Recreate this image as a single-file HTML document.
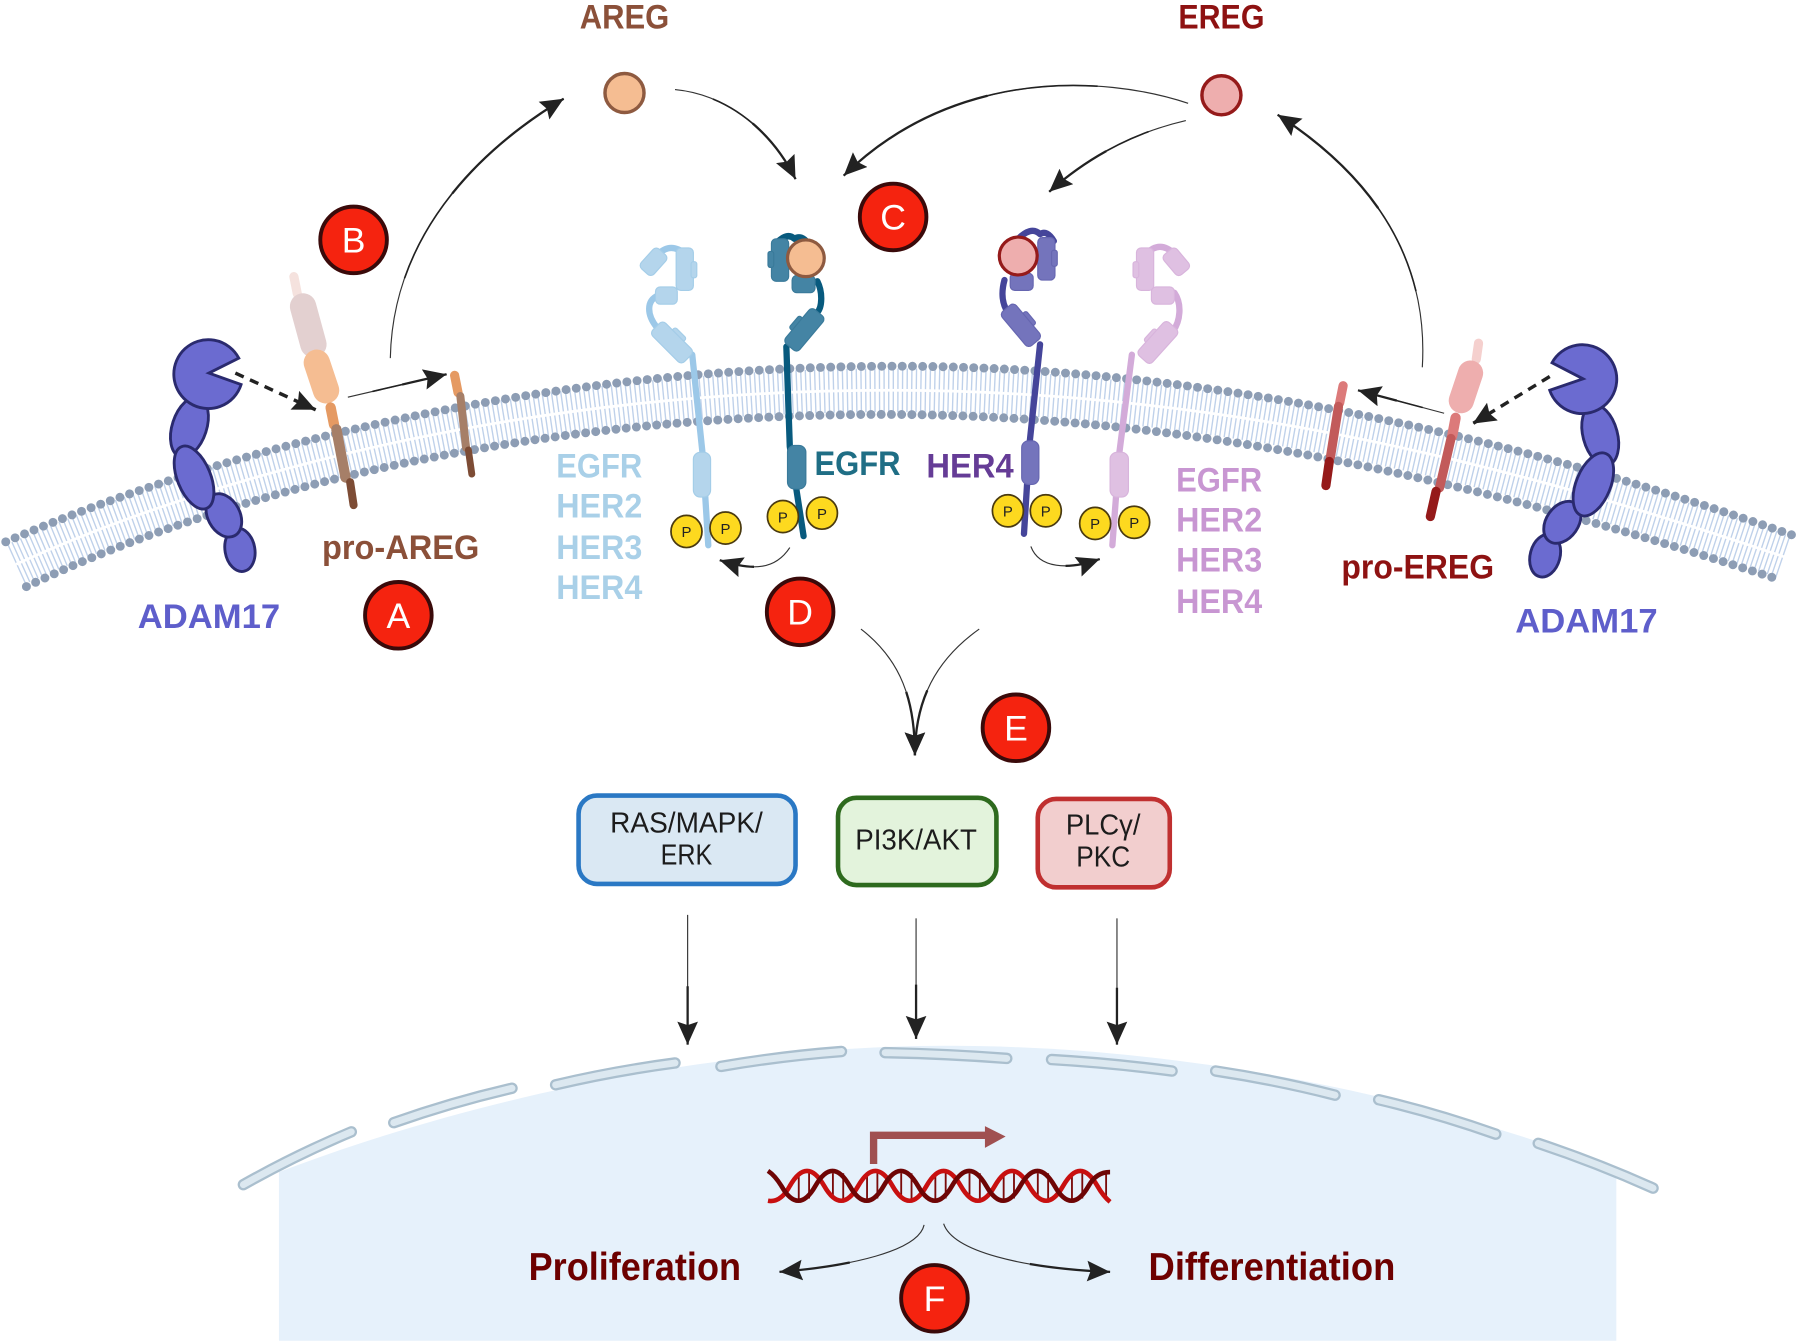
<!DOCTYPE html>
<html><head><meta charset="utf-8"><style>
html,body{margin:0;padding:0;background:#fff}
svg{display:block}
text{font-family:"Liberation Sans",sans-serif;text-anchor:middle}
.b{font-weight:bold}
.l{font-size:30px;font-weight:bold}
.c{fill:#f5230f;stroke:#3a0a0a;stroke-width:3.4}
.ct{fill:#fff;font-size:31px}
.p{fill:#fdd91f;stroke:#4a3a10;stroke-width:1.5}
.pt{font-size:13px;fill:#222}
.bt{font-size:25px;fill:#1c1c1c}
.a{fill:none;stroke:#333;stroke-width:1;marker-end:url(#h)}
.t{fill:none;stroke:#222;stroke-width:2;stroke-dasharray:0 55 45}
.m{fill:none;stroke:#222;stroke-width:1.4;stroke-dasharray:0 25 75}
.ad{fill:#6b6bd0;stroke:#2a2a6e;stroke-width:2.5}
.n1{fill:none;stroke:#aabfce;stroke-width:10;stroke-linecap:round}
.n2{fill:none;stroke:#dce8f0;stroke-width:6;stroke-linecap:round}
</style></head><body>
<svg width="1800" height="1344" viewBox="0 0 1568 1170.8" xmlns="http://www.w3.org/2000/svg">
<defs>
<marker id="h" markerUnits="userSpaceOnUse" markerWidth="22" markerHeight="20" refX="20" refY="9" orient="auto"><path d="M0,0L20,9L0,18L3,9Z" fill="#222"/></marker>
</defs>

<!-- nucleus -->
<path d="M243,1168L243,1021C430,950 640,911 825,911C1020,911 1230,950 1408,1019L1408,1168Z" fill="#e6f1fb"/>
<path class="n1" d="M212,1032Q258,1006 306,986M343,978Q394,960 446,948M484,945Q535,933 588,926M628,929Q680,920 733,916M771,917Q824,918 877,922M916,923Q968,926 1021,933M1059,933Q1112,941 1163,954M1201,958Q1252,970 1303,988M1340,996Q1391,1013 1440,1035"/>
<path class="n2" d="M212,1032Q258,1006 306,986M343,978Q394,960 446,948M484,945Q535,933 588,926M628,929Q680,920 733,916M771,917Q824,918 877,922M916,923Q968,926 1021,933M1059,933Q1112,941 1163,954M1201,958Q1252,970 1303,988M1340,996Q1391,1013 1440,1035"/>

<!-- membrane -->
<g fill="none">
<path d="M14,491.5C207,404 480,340 775,340C1070,340 1325,407 1554,485" stroke="#bfd1ea" stroke-width="38" stroke-dasharray="1.2 2.8"/>
<path d="M14,491.5C207,404 480,340 775,340C1070,340 1325,407 1554,485" stroke="#fff" stroke-width="2.4"/>
<g stroke="#8d9db4" stroke-width="7.8" stroke-linecap="round" stroke-dasharray="0 8.9">
<path d="M5,472C200,388 480,319 780,319C1060,319 1330,385 1561,466"/>
<path d="M23,511C215,420 480,361 770,361C1060,361 1320,430 1547,504"/>
</g>
</g>

<!-- ADAM17 left -->
<g class="ad">
<ellipse cx="209" cy="479" rx="13" ry="19" transform="rotate(-10 209 479)"/>
<ellipse cx="195" cy="449" rx="14" ry="20" transform="rotate(-28 195 449)"/>
<ellipse cx="165" cy="372" rx="15" ry="27" transform="rotate(18 165 372)"/>
<ellipse cx="169" cy="416" rx="14.5" ry="29" transform="rotate(-22 169 416)"/>
<path d="M182,325L208,312A30,30 0 1 0 210,335Z"/>
</g>
<!-- ADAM17 right -->
<g class="ad">
<ellipse cx="1346" cy="484" rx="13" ry="19" transform="rotate(15 1346 484)"/>
<ellipse cx="1361" cy="455" rx="14" ry="20" transform="rotate(35 1361 455)"/>
<ellipse cx="1394" cy="379" rx="15" ry="27" transform="rotate(-15 1394 379)"/>
<ellipse cx="1388" cy="422" rx="15" ry="29" transform="rotate(22 1388 422)"/>
<path d="M1379,330L1352,316A30,30 0 1 1 1350,340Z"/>
</g>

<!-- pro-AREG -->
<g fill="none" stroke-linecap="round">
<path d="M256,241L259,256" stroke="#f5e2de" stroke-width="8"/>
<path d="M264,267L273,300" stroke="#e3d0d0" stroke-width="23"/>
<path d="M276,316L284,340" stroke="#f5bd92" stroke-width="23"/>
<path d="M288,355L291,370" stroke="#e59a63" stroke-width="9"/>
<path d="M293,374L301,416" stroke="#a67f68" stroke-width="9"/>
<path d="M305,420L308,440" stroke="#7d4c35" stroke-width="7"/>
<path d="M396,327L399,342" stroke="#e59a63" stroke-width="8"/>
<path d="M401,345L406,390" stroke="#a67f68" stroke-width="7"/>
<path d="M408,392L411,413" stroke="#7d4c35" stroke-width="6"/>
<!-- pro-EREG -->
<path d="M1288,299L1286,313" stroke="#f5d0ce" stroke-width="8"/>
<path d="M1281,325L1273,349" stroke="#eeaeae" stroke-width="22"/>
<path d="M1268,364L1265,380" stroke="#dc7a7a" stroke-width="9"/>
<path d="M1264,382L1254,425" stroke="#c25a5a" stroke-width="8"/>
<path d="M1251,428L1246,450" stroke="#951a1a" stroke-width="8"/>
<path d="M1170,336L1167,351" stroke="#dc7a7a" stroke-width="8"/>
<path d="M1166,354L1159,398" stroke="#c25a5a" stroke-width="8"/>
<path d="M1158,402L1155,423" stroke="#951a1a" stroke-width="8"/>
</g>

<!-- Receptor light blue -->
<g>
<path d="M573,222Q584,210 598,222M574,257C562,262 564,275 572,285M603,309L612,395L617,475" fill="none" stroke="#9cc8e8" stroke-width="5.5" stroke-linecap="round" stroke-linejoin="round"/>
<g fill="#b4d5ec" stroke="#a4cde8">
<rect x="562" y="217" width="15" height="23" rx="4" transform="rotate(42 570 228)"/>
<rect x="589" y="216" width="15" height="37" rx="4"/>
<rect x="602" y="228" width="5" height="14" rx="2"/>
<rect x="571" y="250" width="19" height="15" rx="4"/>
<rect x="588" y="285" width="6" height="14" rx="2" transform="rotate(-45 591 292)"/>
<rect x="577" y="279" width="16" height="39" rx="4" transform="rotate(-45 585 298)"/>
<rect x="604" y="394" width="15" height="39" rx="6"/>
</g>
<ellipse class="p" cx="598" cy="463" rx="13.5" ry="14"/><text class="pt" x="598" y="468">P</text>
<ellipse class="p" cx="632" cy="460" rx="13.5" ry="14"/><text class="pt" x="632" y="465">P</text>
</g>

<!-- Receptor teal -->
<g>
<path d="M676,212Q686,202 692,208Q698,204 704,212M712,245C717,255 716,268 712,272M685,302L688,389L700,467" fill="none" stroke="#085a7e" stroke-width="5.5" stroke-linecap="round" stroke-linejoin="round"/>
<g fill="#4484a4" stroke="#3a7a9a">
<rect x="672" y="208" width="15" height="37" rx="4"/>
<rect x="669" y="219" width="5" height="14" rx="2"/>
<rect x="690" y="240" width="20" height="15" rx="4"/>
<rect x="691" y="275" width="6" height="14" rx="2" transform="rotate(40 694 282)"/>
<rect x="693" y="268" width="16" height="39" rx="4" transform="rotate(40 701 287)"/>
<rect x="686" y="388" width="16" height="38" rx="6"/>
</g>
<circle cx="702" cy="225" r="16" fill="#f5bd92" stroke="#8e5a40" stroke-width="2.8"/>
<ellipse class="p" cx="682" cy="450" rx="13.5" ry="14"/><text class="pt" x="682" y="455">P</text>
<ellipse class="p" cx="716" cy="447" rx="13.5" ry="14"/><text class="pt" x="716" y="452">P</text>
</g>

<!-- Receptor purple -->
<g>
<path d="M885,210Q898,196 906,204Q912,200 918,210M875,244C872,255 873,265 878,272M906,300L897,385L892,465" fill="none" stroke="#45459a" stroke-width="5.5" stroke-linecap="round" stroke-linejoin="round"/>
<g fill="#7474bc" stroke="#6666b0">
<rect x="904" y="207" width="15" height="37" rx="4"/>
<rect x="916" y="218" width="5" height="14" rx="2"/>
<rect x="880" y="238" width="20" height="15" rx="4"/>
<rect x="893" y="271" width="6" height="14" rx="2" transform="rotate(-40 896 278)"/>
<rect x="881" y="264" width="16" height="39" rx="4" transform="rotate(-40 889 283)"/>
<rect x="890" y="384" width="15" height="38" rx="6"/>
</g>
<circle cx="887" cy="223" r="16.5" fill="#eeaeae" stroke="#951a1a" stroke-width="2.8"/>
<ellipse class="p" cx="878" cy="445" rx="13.5" ry="14"/><text class="pt" x="878" y="450">P</text>
<ellipse class="p" cx="911" cy="445" rx="13.5" ry="14"/><text class="pt" x="911" y="450">P</text>
</g>

<!-- Receptor pink -->
<g>
<path d="M998,222Q1010,208 1024,222M1023,255C1030,265 1028,280 1022,288M986,309L975,395L969,475" fill="none" stroke="#d3abd9" stroke-width="5.5" stroke-linecap="round" stroke-linejoin="round"/>
<g fill="#dfc0e2" stroke="#d8b4dc">
<rect x="1017" y="217" width="15" height="23" rx="4" transform="rotate(-40 1024 228)"/>
<rect x="990" y="216" width="15" height="37" rx="4"/>
<rect x="987" y="228" width="5" height="14" rx="2"/>
<rect x="1003" y="250" width="20" height="15" rx="4"/>
<rect x="1000" y="286" width="6" height="14" rx="2" transform="rotate(42 1003 293)"/>
<rect x="1001" y="279" width="16" height="39" rx="4" transform="rotate(42 1009 298)"/>
<rect x="967" y="394" width="16" height="39" rx="6"/>
</g>
<ellipse class="p" cx="954" cy="456" rx="13.5" ry="14"/><text class="pt" x="954" y="461">P</text>
<ellipse class="p" cx="988" cy="455" rx="13.5" ry="14"/><text class="pt" x="988" y="460">P</text>
</g>

<!-- ligands -->
<circle cx="544" cy="81" r="17" fill="#f5bd92" stroke="#8e5a40" stroke-width="3"/>
<circle cx="1064" cy="83" r="17" fill="#eeaeae" stroke="#951a1a" stroke-width="3"/>

<!-- arrows -->
<path class="a" d="M340,312C342,210 410,135 491,86"/>
<path class="m" pathLength="100" d="M340,312C342,210 410,135 491,86"/><path class="t" pathLength="100" d="M340,312C342,210 410,135 491,86"/>
<path class="a" d="M588,78C630,82 670,110 693,156"/>
<path class="m" pathLength="100" d="M588,78C630,82 670,110 693,156"/><path class="t" pathLength="100" d="M588,78C630,82 670,110 693,156"/>
<path class="a" d="M1035,90C960,65 830,60 735,153"/>
<path class="m" pathLength="100" d="M1035,90C960,65 830,60 735,153"/><path class="t" pathLength="100" d="M1035,90C960,65 830,60 735,153"/>
<path class="a" d="M1033,105C990,115 950,135 914,167"/>
<path class="m" pathLength="100" d="M1033,105C990,115 950,135 914,167"/><path class="t" pathLength="100" d="M1033,105C990,115 950,135 914,167"/>
<path class="a" d="M1239,320C1245,220 1190,150 1113,100"/>
<path class="m" pathLength="100" d="M1239,320C1245,220 1190,150 1113,100"/><path class="t" pathLength="100" d="M1239,320C1245,220 1190,150 1113,100"/>
<path class="a" d="M303,346L389,326"/>
<path class="m" pathLength="100" d="M303,346L389,326"/><path class="t" pathLength="100" d="M303,346L389,326"/>
<path class="a" d="M1258,360L1183,340"/>
<path class="m" pathLength="100" d="M1258,360L1183,340"/><path class="t" pathLength="100" d="M1258,360L1183,340"/>
<path class="a" stroke-dasharray="8 6" style="stroke-width:3;stroke:#222" d="M205,325L275,357"/>
<path class="a" stroke-dasharray="8 6" style="stroke-width:3;stroke:#222" d="M1350,328L1283,369"/>
<path class="a" d="M688,477C675,497 655,497 627,488"/>
<path class="t" pathLength="100" d="M688,477C675,497 655,497 627,488"/>
<path class="a" d="M898,476C905,495 930,497 958,487"/>
<path class="t" pathLength="100" d="M898,476C905,495 930,497 958,487"/>
<path class="a" d="M750,548C785,575 797,610 797,658"/>
<path class="t" pathLength="100" d="M750,548C785,575 797,610 797,658"/>
<path class="a" d="M853,548C815,575 797,610 797,658"/>
<path class="t" pathLength="100" d="M853,548C815,575 797,610 797,658"/>
<path class="a" d="M599,797L599,910"/>
<path class="t" pathLength="100" d="M599,797L599,910"/>
<path class="a" d="M798,800L798,905"/>
<path class="t" pathLength="100" d="M798,800L798,905"/>
<path class="a" d="M973,800L973,910"/>
<path class="t" pathLength="100" d="M973,800L973,910"/>
<path class="a" d="M805,1067C800,1090 740,1103 679,1108"/>
<path class="t" pathLength="100" d="M805,1067C800,1090 740,1103 679,1108"/>
<path class="a" d="M822,1066C830,1090 890,1105 967,1108"/>
<path class="t" pathLength="100" d="M822,1066C830,1090 890,1105 967,1108"/>

<!-- boxes -->
<rect x="504" y="693" width="189" height="77" rx="16" fill="#dae8f3" stroke="#2a78c4" stroke-width="4"/>
<rect x="730" y="695" width="138" height="76" rx="16" fill="#e3f3dc" stroke="#2e6a1e" stroke-width="4"/>
<rect x="904" y="696" width="115" height="77" rx="16" fill="#f2cece" stroke="#c03030" stroke-width="4"/>
<text class="bt" x="598" y="725" textLength="133" lengthAdjust="spacingAndGlyphs">RAS/MAPK/</text>
<text class="bt" x="598" y="753" textLength="45" lengthAdjust="spacingAndGlyphs">ERK</text>
<text class="bt" x="798" y="740" textLength="106" lengthAdjust="spacingAndGlyphs">PI3K/AKT</text>
<text class="bt" x="961" y="727" textLength="65" lengthAdjust="spacingAndGlyphs">PLCγ/</text>
<text class="bt" x="961" y="755" textLength="47" lengthAdjust="spacingAndGlyphs">PKC</text>

<!-- DNA -->
<path d="M695,1033H967" stroke="#7a0a0a" stroke-width="22" stroke-dasharray="1.6 7.4 1.6 19.15" fill="none"/>
<path d="M669,1046Q680,1048 688.1,1033Q703,1007 717.9,1033T747.65,1033T777.4,1033T807.15,1033T836.9,1033T866.65,1033T896.4,1033T926.15,1033T955.9,1033Q961,1042 967,1047" fill="none" stroke="#c81010" stroke-width="4"/>
<path d="M669,1020Q675,1024 680.6,1033Q695.5,1059 710.35,1033T740.1,1033T769.85,1033T799.6,1033T829.35,1033T859.1,1033T888.85,1033T918.6,1033T948.35,1033Q955,1021 967,1021" fill="none" stroke="#6e0505" stroke-width="4"/>
<path d="M761,1014V989H860" fill="none" stroke="#a05050" stroke-width="6.4"/>
<path d="M858,981L876,990L858,1000Z" fill="#a05050"/>

<!-- circles -->
<circle class="c" cx="347" cy="536" r="29"/><text class="ct" x="347" y="547">A</text>
<circle class="c" cx="308" cy="209" r="29"/><text class="ct" x="308" y="220">B</text>
<circle class="c" cx="778" cy="189" r="29"/><text class="ct" x="778" y="200">C</text>
<circle class="c" cx="697" cy="533" r="29"/><text class="ct" x="697" y="544">D</text>
<circle class="c" cx="885" cy="634" r="29"/><text class="ct" x="885" y="645">E</text>
<circle class="c" cx="814" cy="1131" r="29"/><text class="ct" x="814" y="1142">F</text>

<!-- labels -->
<text class="l" fill="#8b5039" x="544" y="25" textLength="78" lengthAdjust="spacingAndGlyphs">AREG</text>
<text class="l" fill="#8e1212" x="1064" y="25" textLength="75" lengthAdjust="spacingAndGlyphs">EREG</text>
<text class="l" fill="#8b5039" x="349" y="487" textLength="137" lengthAdjust="spacingAndGlyphs">pro-AREG</text>
<text class="l" fill="#5e5ecb" x="182" y="547" textLength="124" lengthAdjust="spacingAndGlyphs">ADAM17</text>
<text class="l" fill="#8e1212" x="1235" y="504" textLength="133" lengthAdjust="spacingAndGlyphs">pro-EREG</text>
<text class="l" fill="#5e5ecb" x="1382" y="551" textLength="124" lengthAdjust="spacingAndGlyphs">ADAM17</text>
<g fill="#a9d0e8">
<text class="l" x="522" y="416" textLength="75" lengthAdjust="spacingAndGlyphs">EGFR</text>
<text class="l" x="522" y="451" textLength="75" lengthAdjust="spacingAndGlyphs">HER2</text>
<text class="l" x="522" y="487" textLength="75" lengthAdjust="spacingAndGlyphs">HER3</text>
<text class="l" x="522" y="522" textLength="75" lengthAdjust="spacingAndGlyphs">HER4</text>
</g>
<g fill="#c896d2">
<text class="l" x="1062" y="428" textLength="75" lengthAdjust="spacingAndGlyphs">EGFR</text>
<text class="l" x="1062" y="463" textLength="75" lengthAdjust="spacingAndGlyphs">HER2</text>
<text class="l" x="1062" y="498" textLength="75" lengthAdjust="spacingAndGlyphs">HER3</text>
<text class="l" x="1062" y="534" textLength="75" lengthAdjust="spacingAndGlyphs">HER4</text>
</g>
<text class="l" fill="#1f6e85" x="747" y="414" textLength="75" lengthAdjust="spacingAndGlyphs">EGFR</text>
<text class="l" fill="#653c96" x="845" y="416" textLength="76" lengthAdjust="spacingAndGlyphs">HER4</text>
<text class="b" style="font-size:34px" fill="#6d0000" x="553" y="1115" textLength="185" lengthAdjust="spacingAndGlyphs">Proliferation</text>
<text class="b" style="font-size:34px" fill="#6d0000" x="1108" y="1115" textLength="215" lengthAdjust="spacingAndGlyphs">Differentiation</text>
</svg>
</body></html>
